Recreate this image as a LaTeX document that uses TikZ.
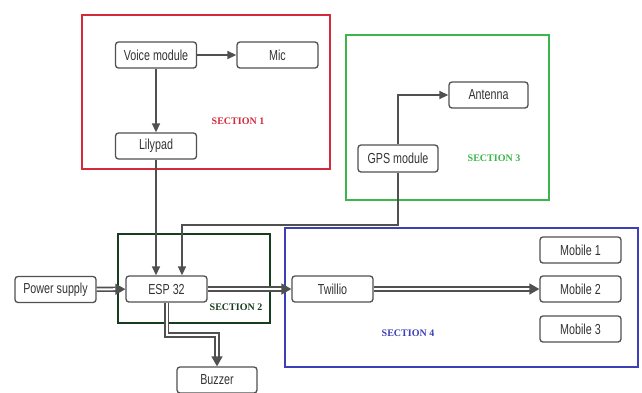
\documentclass[tikz,border=0pt]{standalone}
\usepackage{fontspec}
\usetikzlibrary{arrows.meta,calc}
\newfontfamily\nodefont[FakeStretch=0.74]{Liberation Sans}
\newfontfamily\secfont{Liberation Serif}
\definecolor{gline}{HTML}{505050}
\definecolor{secred}{HTML}{D42A3A}
\definecolor{secgreen}{HTML}{3CB54A}
\definecolor{secdark}{HTML}{173D20}
\definecolor{secblue}{HTML}{3C3FB8}
\begin{document}
\begin{tikzpicture}[x=1pt,y=-1pt,
  box/.style={draw=gline, line width=1.3pt, rounded corners=3pt, fill=white,
    minimum width=81pt, minimum height=26pt, inner sep=0pt,
    font=\nodefont\fontsize{14.5}{16}\selectfont, text=black!80},
  arr/.style={draw=gline, line width=1.5pt, -{Triangle[length=9pt,width=8pt]}},
  darr/.style={draw=gline, line width=1.6pt, double=white, double distance=2pt,
    -{Triangle[length=10pt,width=11pt]}},
  sec/.style={line width=2.2pt},
  seclab/.style={font=\secfont\bfseries\fontsize{10}{12}\selectfont}]
\useasboundingbox (0,0) rectangle (642,392);
\fill[white] (0,0) rectangle (642,392);
% section frames
\draw[sec, secred] (82,15) rectangle (330,169);
\draw[sec, secgreen] (346,35) rectangle (549,200);
\draw[sec, secdark] (118,234) rectangle (270,323);
\draw[sec, secblue] (285,228) rectangle (638,367);
% labels
\node[seclab, text=secred] (s1) at (238,121) {SECTION 1};
\node[seclab, text=secgreen] (s3) at (494,158) {SECTION 3};
\node[seclab, text=secdark] (s2) at (236,307) {SECTION 2};
\node[seclab, text=secblue] (s4) at (408,333) {SECTION 4};
% nodes
\node[box] (voice) at (156,55) {Voice module};
\node[box] (mic) at (277.5,55) {Mic};
\node[box] (lily) at (156,146) {Lilypad};
\node[box, minimum width=80pt, minimum height=27pt] (gps) at (398,158.5) {GPS module};
\node[box, minimum width=79pt] (ant) at (488.5,95) {Antenna};
\node[box] (esp) at (166.5,289) {ESP 32};
\node[box] (power) at (55.5,289.5) {Power supply};
\node[box, minimum width=80pt] (buzz) at (217,380) {Buzzer};
\node[box] (tw) at (332.5,289) {Twillio};
\node[box] (m1) at (580.5,250) {Mobile 1};
\node[box] (m2) at (580.5,289) {Mobile 2};
\node[box] (m3) at (580.5,329) {Mobile 3};
% helper coordinates
\coordinate (ygps) at (0,225);
\coordinate (ybz) at (0,335);
% connectors
\draw[arr] (voice) -- (mic);
\draw[arr] (voice) -- (lily);
\draw[arr] (lily.south) -- (lily.south |- esp.north);
\draw[arr] (gps.north) |- (ant.west);
\draw[arr] (gps.south) -- (gps.south |- ygps) -| ([xshift=15.5pt]esp.north);
\draw[darr] (power) -- (esp);
\draw[darr] (esp) -- (tw);
\draw[darr] (esp.south) |- (buzz.north |- ybz) -- (buzz.north);
\draw[darr] (tw) -- (m2);
\end{tikzpicture}
\end{document}
